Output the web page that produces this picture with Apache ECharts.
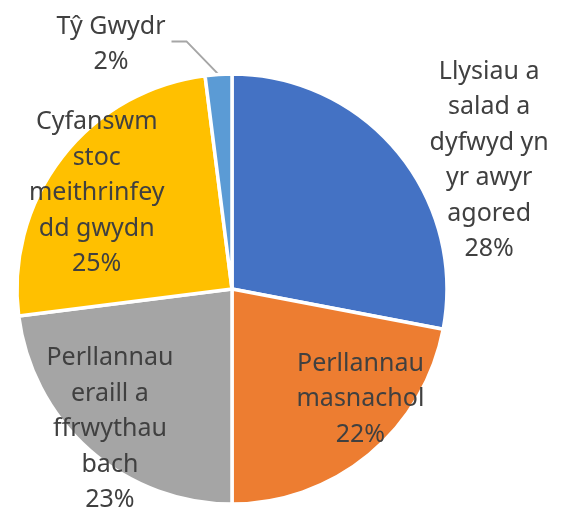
<!DOCTYPE html>
<html>
<head>
<meta charset="utf-8">
<script src="https://cdn.jsdelivr.net/npm/echarts@6/dist/echarts.min.js"></script>
<style>
  html, body { margin: 0; padding: 0; background: #fff; }
  #chart { width: 576px; height: 515px; }
</style>
</head>
<body>
<div id="chart"></div>
<script>
// categorïau (line breaks as in the reference)
const categories = [
  'Llysiau a\nsalad a\ndyfwyd yn\nyr awyr\nagored',
  'Perllannau\nmasnachol',
  'Perllannau\neraill a\nffrwythau\nbach',
  'Cyfanswm\nstoc\nmeithrinfey\ndd gwydn',
  'Tŷ Gwydr'
]
const values = [28, 22, 23, 25, 2]
const colors = ['#4472C4', '#ED7D31', '#A5A5A5', '#FFC000', '#5B9BD5']

// label nudges from the default inside point (px)
const labelShift = [[172, -58], [58, 25], [-49, 57], [-48, -28]]

const chart = echarts.init(document.getElementById('chart'))

const seriesData = categories.map((name, i) => {
  const item = { name: name, value: values[i], itemStyle: { color: colors[i] } }
  if (i === 4) {
    item.label = { position: 'outside' }
    item.labelLine = { show: true }
  }
  return item
})

chart.setOption({
  animation: false,
  series: [
    {
      type: 'pie',
      center: [232, 289],
      radius: [0, 215],
      startAngle: 90,
      clockwise: true,
      avoidLabelOverlap: false,
      itemStyle: { borderColor: '#fff', borderWidth: 3.5 },
      label: {
        show: true,
        position: 'inside',
        color: '#404040',
        fontFamily: 'Noto Sans',
        fontSize: 25,
        lineHeight: 35.5,
        align: 'center',
        formatter: p => p.name.split('\n').concat(Math.round(p.percent) + '%')
          .map(s => '{c|' + s + '}').join('\n'),
        rich: {
          c: {
            align: 'center',
            color: '#404040',
            fontFamily: 'Noto Sans',
            fontSize: 25,
            lineHeight: 35.5
          }
        }
      },
      labelLine: {
        show: false,
        length: 30,
        length2: 15,
        lineStyle: { color: '#A6A6A6', width: 2 }
      },
      labelLayout: p => {
        if (p.dataIndex < 4) {
          const s = labelShift[p.dataIndex]
          return { dx: s[0], dy: s[1] }
        }
        // leader line: diagonal up-left from the slice, then a short flat run
        const pts = p.labelLinePoints
        const a = pts[0]
        const b = [a[0] - 32, a[1] - 33]
        const c = [b[0] - 15, b[1]]
        const r = p.labelRect
        return {
          dx: (c[0] - 6) - (r.x + r.width),
          dy: c[1] + 3 - (r.y + r.height / 2),
          labelLinePoints: [a, b, c]
        }
      },
      data: seriesData
    }
  ]
})
</script>
</body>
</html>
